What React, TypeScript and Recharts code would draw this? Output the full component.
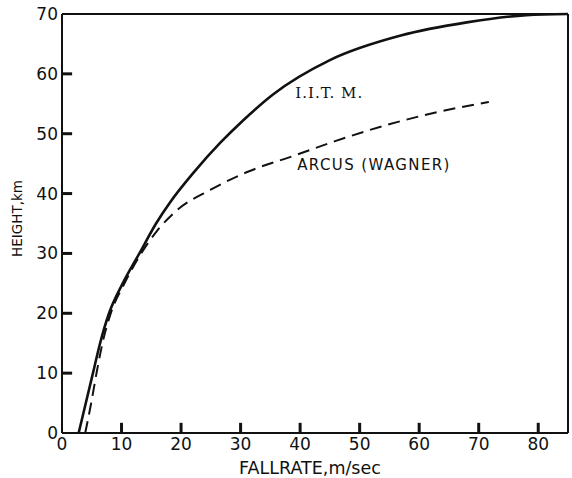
import { LineChart, Line, XAxis, YAxis, ReferenceLine, ReferenceDot, Label } from 'recharts';

// I.I.T.M. curve (fallrate m/s vs height km)
const iitmRate = [2.8, 4, 5.2, 6.4, 7.9, 10.2, 13, 15.8, 18.2, 22.1, 26.6, 30.5, 35.5, 45, 56.9, 68, 78, 85];
const iitmHeight = [0, 5, 10, 15, 20, 25, 30, 35, 38.6, 43.5, 48.5, 52.3, 56.6, 62.3, 66.4, 68.6, 69.8, 70];

// ARCUS (Wagner) curve
const arcusRate = [3.9, 4.9, 5.8, 6.8, 8.2, 10.5, 13.3, 16, 19.3, 24.9, 31.1, 38.9, 46, 54, 63, 71.7];
const arcusHeight = [0, 5, 10, 15, 20, 25, 30, 33.8, 37.2, 40.6, 43.6, 46.3, 48.8, 51.3, 53.6, 55.3];

const rateTicks = [0, 10, 20, 30, 40, 50, 60, 70, 80];
const heightTicks = [0, 10, 20, 30, 40, 50, 60, 70];

const iitm = iitmRate.map((rate, i) => ({ rate, height: iitmHeight[i] }));
const arcus = arcusRate.map((rate, i) => ({ rate, height: arcusHeight[i] }));

const ink = '#111';
const font = '"DejaVu Sans", sans-serif';
// inward tick length in data units (~10px)
const tickLen = 1.7;

export default function App() {
  return (
    <div style={{ width: 572, height: 478, background: '#fff' }}>
      <style>{'body{margin:0}'}</style>
      <LineChart width={572} height={478} margin={{ top: 14, right: 4, bottom: 0, left: 0 }}>
        <XAxis
          type="number"
          dataKey="rate"
          domain={[0, 85]}
          ticks={rateTicks}
          height={45}
          tickSize={0}
          tickMargin={5}
          tickLine={false}
          tick={{ fill: ink, fontFamily: font, fontSize: 17 }}
          axisLine={{ stroke: ink, strokeWidth: 2 }}
        >
          <Label
            content={({ viewBox }: any) => (
              <text
                x={viewBox.x + viewBox.width / 2 - 5}
                y={viewBox.y + 41}
                textAnchor="middle"
                fontFamily={font}
                fontSize={17.5}
                fill={ink}
              >
                FALLRATE,m/sec
              </text>
            )}
          />
        </XAxis>
        <YAxis
          type="number"
          dataKey="height"
          domain={[0, 70]}
          ticks={heightTicks}
          width={62}
          tickSize={0}
          tickMargin={4}
          tickLine={false}
          tick={{ fill: ink, fontFamily: font, fontSize: 17 }}
          axisLine={{ stroke: ink, strokeWidth: 2 }}
        >
          <Label
            content={({ viewBox }: any) => {
              const cx = 22;
              const cy = viewBox.y + viewBox.height / 2 - 5;
              return (
                <text
                  x={cx}
                  y={cy}
                  transform={`rotate(-90 ${cx} ${cy})`}
                  textAnchor="middle"
                  fontFamily={font}
                  fontSize={13.5}
                  fill={ink}
                >
                  HEIGHT,km
                </text>
              );
            }}
          />
        </YAxis>
        {rateTicks.slice(1).map((t) => (
          <ReferenceLine
            key={'xt' + t}
            segment={[{ x: t, y: 0 }, { x: t, y: tickLen }]}
            ifOverflow="visible"
            stroke={ink}
            strokeWidth={3}
          />
        ))}
        {heightTicks.slice(1, -1).map((t) => (
          <ReferenceLine
            key={'yt' + t}
            segment={[{ x: 0, y: t }, { x: tickLen, y: t }]}
            ifOverflow="visible"
            stroke={ink}
            strokeWidth={3}
          />
        ))}
        <ReferenceLine y={70} stroke={ink} strokeWidth={2} />
        <ReferenceLine x={85} stroke={ink} strokeWidth={2} />
        <Line
          data={arcus}
          dataKey="height"
          type="monotone"
          stroke={ink}
          strokeWidth={2}
          strokeDasharray="12 7"
          dot={false}
          isAnimationActive={false}
        />
        <Line
          data={iitm}
          dataKey="height"
          type="monotone"
          stroke={ink}
          strokeWidth={2.6}
          dot={false}
          isAnimationActive={false}
        />
        <ReferenceDot x={39.2} y={56} r={0} fill="none" stroke="none">
          <Label
            content={({ viewBox }: any) => (
              <text
                x={viewBox.x}
                y={viewBox.y}
                fontFamily='"DejaVu Serif", serif'
                fontSize={15}
                letterSpacing={1}
                fill={ink}
              >
                I.I.T. M.
              </text>
            )}
          />
        </ReferenceDot>
        <ReferenceDot x={39.5} y={44} r={0} fill="none" stroke="none">
          <Label
            content={({ viewBox }: any) => (
              <text x={viewBox.x} y={viewBox.y} fontFamily={font} fontSize={15} letterSpacing={1.4} fill={ink}>
                ARCUS (WAGNER)
              </text>
            )}
          />
        </ReferenceDot>
      </LineChart>
    </div>
  );
}
